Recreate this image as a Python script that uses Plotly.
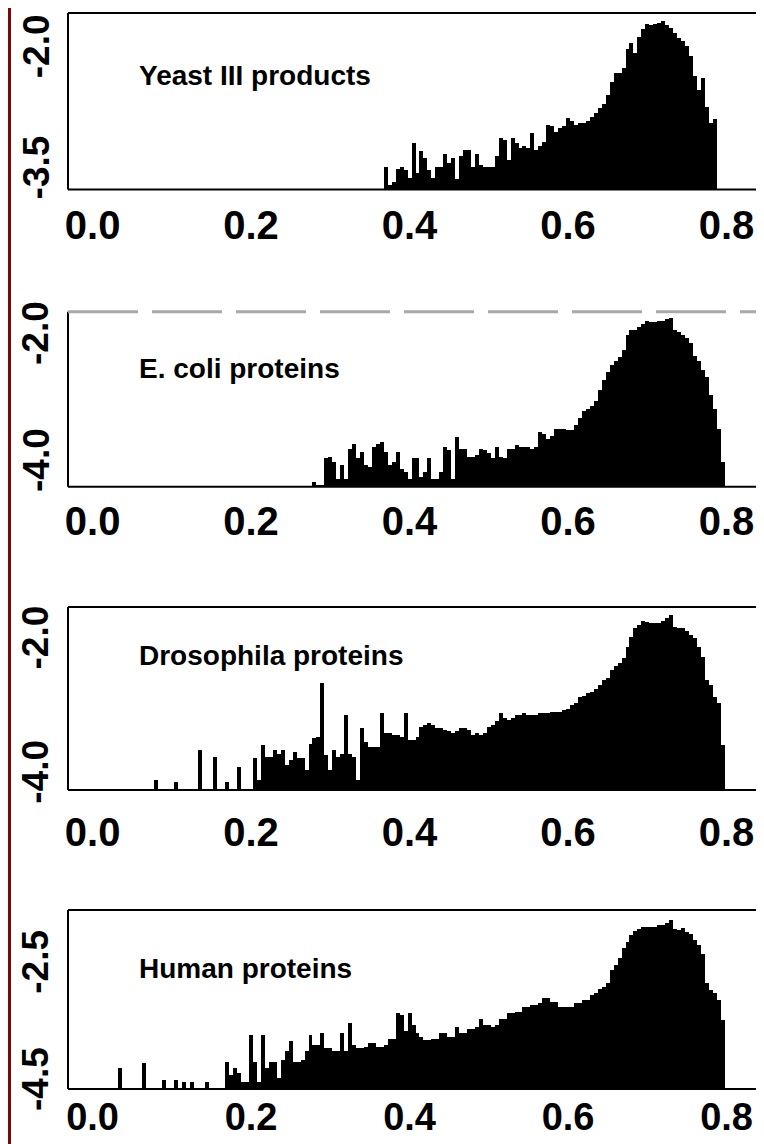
import plotly.graph_objects as go

# ---------------- data (log10 frequency per bin of width 0.005) ----------------
BIN = 0.005

yeast_start = 0.370
yeast_vals = [
    -3.50, -3.72, -3.68, -3.52, -3.49, -3.53, -3.63, -3.20, -3.57, -3.30,
    -3.38, -3.53, -3.63, -3.49, -3.49, -3.34, -3.45, -3.38, -3.65, -3.36,
    -3.28, -3.28, -3.49, -3.34, -3.47, -3.49, -3.49, -3.49, -3.36, -3.14,
    -3.16, -3.41, -3.14, -3.20, -3.26, -3.24, -3.26, -3.08, -3.28, -3.24,
    -3.18, -2.97, -2.99, -3.06, -3.01, -2.99, -2.89, -2.93, -2.97, -2.95,
    -2.95, -2.93, -2.87, -2.83, -2.77, -2.72, -2.60, -2.44, -2.33, -2.33,
    -2.27, -2.04, -1.96, -2.08, -1.88, -1.79, -1.73, -1.74, -1.73, -1.71,
    -1.69, -1.74, -1.77, -1.84, -1.90, -1.94, -2.00, -2.12, -2.37, -2.54,
    -2.39, -2.75, -2.95, -2.90,
]

ecoli_start = 0.280
ecoli_vals = [
    -4.34, -4.39, -4.39, -3.97, -3.95, -4.02, -4.29, -4.08, -4.29, -3.82,
    -3.74, -3.97, -3.87, -4.08, -4.11, -3.79, -3.74, -3.71, -3.87, -4.08,
    -4.03, -3.87, -4.13, -4.18, -4.29, -3.97, -3.97, -4.26, -4.18, -3.97,
    -4.29, -4.29, -4.18, -3.79, -3.84, -4.29, -3.63, -3.82, -3.82, -3.95,
    -3.95, -3.92, -3.82, -3.84, -3.89, -3.97, -3.79, -3.95, -3.97, -3.82,
    -3.82, -3.76, -3.79, -3.79, -3.79, -3.82, -3.79, -3.55, -3.58, -3.66,
    -3.61, -3.50, -3.50, -3.51, -3.53, -3.53, -3.45, -3.34, -3.23, -3.19,
    -3.14, -3.06, -2.90, -2.74, -2.61, -2.50, -2.43, -2.37, -2.27, -2.03,
    -1.95, -1.95, -1.90, -1.85, -1.80, -1.82, -1.82, -1.81, -1.80, -1.77,
    -1.76, -1.95, -1.98, -2.03, -2.08, -2.16, -2.35, -2.43, -2.58, -2.69,
    -2.97, -3.19, -3.50, -4.02,
]

droso_start = 0.080
droso_vals = [
    -4.12, None, None, None, None, -4.15, None, None, None, None,
    None, -3.68, None, None, None, -3.78, None, None, -4.15, None,
    None, -3.93, None, None, None, -3.80, -4.12, -3.60, -3.78, -3.78,
    -3.68, -3.73, -3.68, -3.90, -3.83, -3.70, -3.80, -3.80, -3.97, -3.58,
    -3.50, -3.48, -2.68, -3.75, -3.97, -3.68, -3.78, -3.73, -3.15, -3.73,
    -3.78, -4.12, -3.35, -3.55, -3.63, -3.63, -3.63, -3.13, -3.43, -3.43,
    -3.45, -3.45, -3.48, -3.13, -3.53, -3.53, -3.48, -3.33, -3.30, -3.28,
    -3.31, -3.35, -3.35, -3.38, -3.40, -3.43, -3.40, -3.35, -3.35, -3.38,
    -3.45, -3.43, -3.45, -3.43, -3.33, -3.30, -3.25, -3.13, -3.20, -3.23,
    -3.20, -3.15, -3.15, -3.13, -3.15, -3.15, -3.15, -3.13, -3.13, -3.13,
    -3.11, -3.11, -3.11, -3.08, -3.06, -3.01, -2.98, -2.88, -2.87, -2.83,
    -2.81, -2.76, -2.71, -2.63, -2.61, -2.48, -2.43, -2.38, -2.31, -2.14,
    -1.99, -1.86, -1.81, -1.76, -1.77, -1.79, -1.79, -1.79, -1.76, -1.71,
    -1.67, -1.84, -1.86, -1.86, -1.91, -1.96, -2.01, -2.14, -2.29, -2.63,
    -2.71, -2.88, -2.98, -3.60,
]

human_start = 0.035
human_vals = [
    -4.32, None, None, None, None, None, -4.23, None, None, None,
    None, -4.52, None, None, -4.52, None, -4.55, None, -4.55, None,
    None, None, -4.55, None, None, None, None, -4.21, -4.43, -4.32,
    -4.40, -4.55, -4.55, -3.75, -4.21, -4.55, -3.75, -4.32, -4.21, -4.21,
    -4.49, -4.18, -4.03, -3.86, -4.21, -4.21, -4.18, -4.03, -3.75, -3.92,
    -3.92, -3.72, -3.98, -3.98, -4.03, -4.03, -3.72, -4.03, -3.55, -3.92,
    -3.98, -3.98, -3.95, -3.89, -3.89, -3.95, -3.95, -3.92, -3.81, -3.81,
    -3.38, -3.41, -3.69, -3.38, -3.58, -3.72, -3.78, -3.84, -3.84, -3.81,
    -3.81, -3.72, -3.72, -3.78, -3.78, -3.61, -3.72, -3.72, -3.64, -3.64,
    -3.61, -3.47, -3.58, -3.58, -3.61, -3.58, -3.47, -3.47, -3.38, -3.38,
    -3.35, -3.35, -3.27, -3.27, -3.24, -3.24, -3.21, -3.12, -3.12, -3.18,
    -3.18, -3.27, -3.27, -3.27, -3.27, -3.21, -3.21, -3.15, -3.15, -3.07,
    -3.04, -2.96, -2.93, -2.87, -2.64, -2.56, -2.44, -2.27, -2.16, -2.05,
    -1.98, -1.94, -1.90, -1.90, -1.90, -1.90, -1.88, -1.87, -1.84, -1.79,
    -1.94, -1.96, -1.93, -1.99, -2.03, -2.13, -2.22, -2.36, -2.87, -2.99,
    -3.04, -3.15, -3.49,
]

labels = ["Yeast III products", "E. coli proteins", "Drosophila proteins", "Human proteins"]
x_ticks = [0.0, 0.2, 0.4, 0.6, 0.8]
x_ticktext = ["0.0", "0.2", "0.4", "0.6", "0.8"]
y_ticks = [[-3.5, -2.0], [-4.0, -2.0], [-4.0, -2.0], [-4.5, -2.5]]
y_ticktext = [["-3.5", "-2.0"], ["-4.0", "-2.0"], ["-4.0", "-2.0"], ["-4.5", "-2.5"]]

# ---------------- layout geometry ----------------
# The page body adds an 8 px margin, so the figure is 8 px smaller and
# all page-pixel positions below are shifted by OFF.
OFF = 8
W, H = 764 - OFF, 1144 - OFF
ML = 68 - OFF            # plot left at page x = 68
MR = W - (758 - OFF)     # plot right at page x = 758
MT = 13 - OFF            # plot top at page y = 13
MB = H - (1089 - OFF)    # plot bottom at page y = 1089
PW = W - ML - MR
PH = H - MT - MB
x_range = [-0.031, 0.8397]
boxes_px = [(13, 189.5), (311.7, 486.7), (607, 790), (910, 1089)]   # page px
y_ranges = [[-3.774, -1.588], [-4.42, -1.665], [-4.273, -1.545], [-4.671, -1.618]]
label_y = [-2.358, -2.559, -2.261, -2.616]
x_standoff = [8, 7, 15, 2]
x_fontsize = [40, 40, 40, 38]

series = [
    (yeast_start, yeast_vals),
    (ecoli_start, ecoli_vals),
    (droso_start, droso_vals),
    (human_start, human_vals),
]

FONT = "Liberation Sans, Arial, Helvetica, sans-serif"

fig = go.Figure()
shapes = []
annotations = []
for i, (start, vals) in enumerate(series):
    n = i + 1
    sx = "" if n == 1 else str(n)
    xs = [round(start + BIN * k, 4) for k in range(len(vals))]
    base = y_ranges[i][0]
    heights = [None if v is None else v - base for v in vals]
    fig.add_trace(go.Bar(
        x=xs, y=heights, base=base, width=BIN,
        marker=dict(color="black", line=dict(width=0)),
        xaxis="x" + sx, yaxis="y" + sx,
        showlegend=False, hoverinfo="skip",
    ))
    top_px, bot_px = boxes_px[i]
    top_f, bot_f = top_px - OFF, bot_px - OFF
    dom = [(H - MB - bot_f) / PH, (H - MB - top_f) / PH]
    dom = [max(0, dom[0]), min(1, dom[1])]
    xa = dict(range=x_range, domain=[0, 1], anchor="y" + sx, automargin=False,
              tickmode="array", tickvals=x_ticks, ticktext=x_ticktext,
              showgrid=False, zeroline=False, showline=False, ticks="",
              ticklabelstandoff=x_standoff[i],
              tickfont=dict(family=FONT, size=x_fontsize[i], color="black", weight="bold"))
    ya = dict(range=y_ranges[i], domain=dom, anchor="x" + sx, automargin=False,
              showticklabels=False, showgrid=False, zeroline=False,
              showline=False, ticks="")
    fig.update_layout(**{"xaxis" + sx: xa, "yaxis" + sx: ya})

    xr = "x" + sx + " domain"
    yr = "y" + sx + " domain"
    blk = dict(color="black", width=2)
    shapes.append(dict(type="line", xref=xr, yref=yr, x0=0, x1=1, y0=0, y1=0, line=blk))
    shapes.append(dict(type="line", xref=xr, yref=yr, x0=0, x1=0, y0=0, y1=1, line=blk))
    shapes.append(dict(type="line", xref=xr, yref=yr, x0=1, x1=1, y0=0, y1=1, line=blk))
    if n == 2:
        shapes.append(dict(type="line", xref=xr, yref=yr, x0=0, x1=1, y0=1, y1=1,
                           line=dict(color="#a8a8a8", width=3, dash="70px,14px")))
    else:
        shapes.append(dict(type="line", xref=xr, yref=yr, x0=0, x1=1, y0=1, y1=1, line=blk))

    # rotated y tick labels (R style, reading bottom-to-top)
    for tv, tt in zip(y_ticks[i], y_ticktext[i]):
        annotations.append(dict(
            text=tt, x=(36 - OFF - ML) / PW, y=tv, xref="paper", yref="y" + sx,
            xanchor="center", yanchor="middle", textangle=-90, showarrow=False,
            font=dict(family=FONT, size=37, color="black", weight="bold"),
        ))

    annotations.append(dict(
        text=labels[i], x=(137 - 92.5) / 792.5, y=label_y[i],
        xref="x" + sx, yref="y" + sx,
        xanchor="left", yanchor="middle", showarrow=False,
        font=dict(family=FONT, size=28, color="black", weight="bold"),
    ))

# dark red strip on the left edge (as much of it as the page allows)
shapes.append(dict(type="rect", xref="paper", yref="paper",
                   x0=-ML / PW, x1=(11 - OFF - ML) / PW,
                   y0=-MB / PH - 0.01, y1=1 + MT / PH + 0.01,
                   fillcolor="#7d0505", line=dict(width=0), layer="above"))

fig.update_layout(
    template="none",
    width=W, height=H,
    margin=dict(l=ML, r=MR, t=MT, b=MB, autoexpand=False),
    paper_bgcolor="white", plot_bgcolor="white",
    bargap=0, shapes=shapes, annotations=annotations,
)

fig.write_html("out.html")
